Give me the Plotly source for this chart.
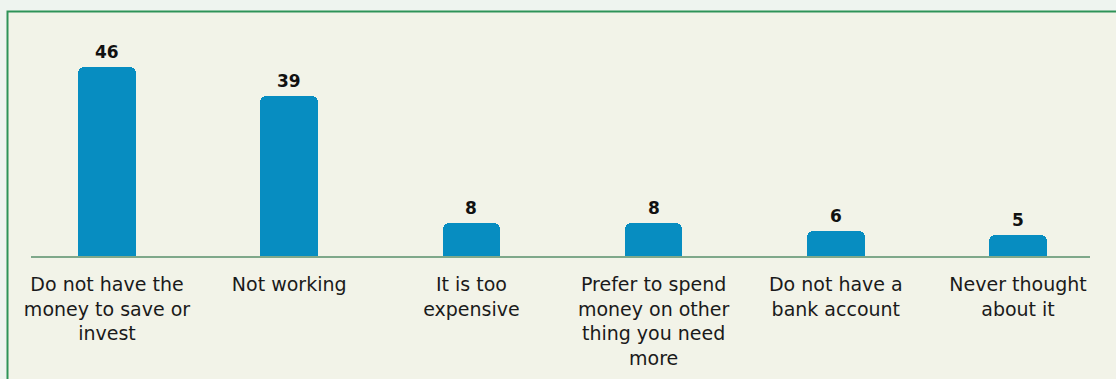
import plotly.graph_objects as go

categories = [
    "Do not have the<br>money to save or<br>invest",
    "Not working",
    "It is too<br>expensive",
    "Prefer to spend<br>money on other<br>thing you need<br>more",
    "Do not have a<br>bank account",
    "Never thought<br>about it",
]
values = [46, 39, 8, 8, 6, 5]

BAR = "#078dc1"
OUTER = "#eef4ef"
INNER = "#f2f3e8"
BORDER = "#2e9358"
AXIS = "#7fa88a"

W, H = 1116, 379
L, R, T, B = 31, 26, 40, 123
pw = W - L - R
ph = H - T - B

fig = go.Figure()
fig.add_trace(go.Bar(
    x=list(range(len(categories))),
    y=values,
    marker=dict(color=BAR, line=dict(width=0), cornerradius=6),
    width=0.315,
    hoverinfo="skip",
))

for i, v in enumerate(values):
    fig.add_annotation(
        x=i, y=v, text=f"<b>{v}</b>", showarrow=False,
        yanchor="bottom", yshift=3,
        font=dict(family="DejaVu Sans", size=17, color="#111111"),
    )

# inner panel box
fig.add_shape(
    type="rect", xref="paper", yref="paper", layer="below",
    x0=(7.5 - L) / pw, x1=(W + 20 - L) / pw,
    y0=-(H + 20 - T - ph) / ph, y1=(H - B - 11.5) / ph,
    fillcolor=INNER, line=dict(color=BORDER, width=2),
)

fig.update_layout(
    width=W, height=H,
    margin=dict(l=L, r=R, t=T, b=B, autoexpand=False),
    paper_bgcolor=OUTER,
    plot_bgcolor="rgba(0,0,0,0)",
    showlegend=False,
    bargap=0,
    xaxis=dict(
        tickmode="array",
        tickvals=list(range(len(categories))),
        ticktext=categories,
        range=[-0.417, 5.395],
        showgrid=False, zeroline=False,
        showline=True, linecolor=AXIS, linewidth=2,
        ticks="outside", ticklen=10, tickcolor="rgba(0,0,0,0)",
        tickfont=dict(family="DejaVu Sans", size=19, color="#1a1a1a"),
        automargin=False,
        fixedrange=True,
    ),
    yaxis=dict(
        range=[0, ph / 4.11],
        visible=False, showgrid=False, zeroline=False,
        fixedrange=True,
    ),
)

fig.write_html(
    "out.html",
    config={"displayModeBar": False},
    post_script="document.body.style.margin='0';document.body.style.background='" + OUTER + "';",
)
